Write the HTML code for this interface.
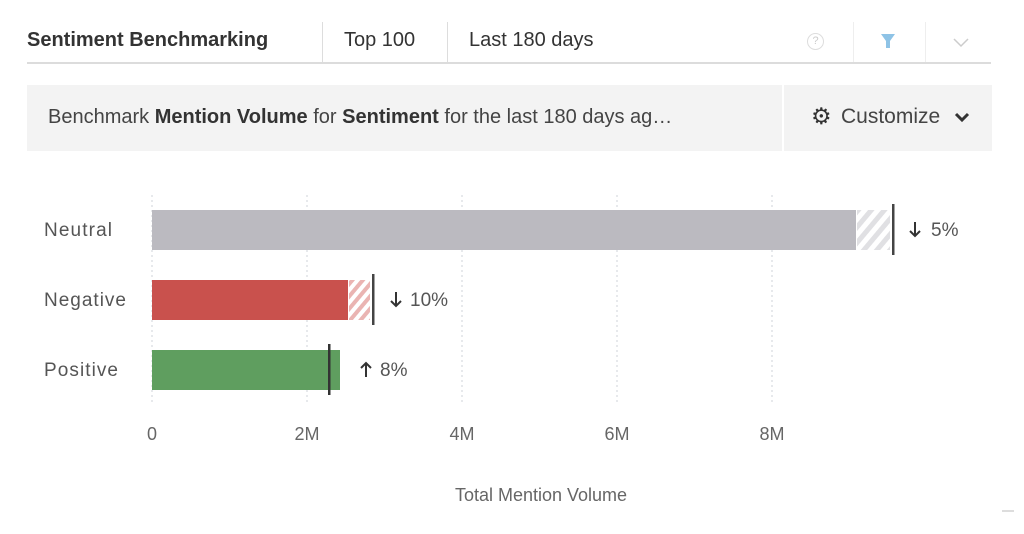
<!DOCTYPE html>
<html><head><meta charset="utf-8"><style>
body{margin:0;width:1024px;height:534px;background:#fff;font-family:"Liberation Sans",sans-serif;position:relative;overflow:hidden;color:#333}
.a{position:absolute}
</style></head><body>
<div class="a" style="left:27px;top:62px;width:964px;height:2px;background:#dcdcdc"></div>
<div class="a" style="left:27px;top:29px;font-size:20px;font-weight:bold;color:#333">Sentiment Benchmarking</div>
<div class="a" style="left:322px;top:22px;width:1px;height:40px;background:#ddd"></div>
<div class="a" style="left:344px;top:29px;font-size:20px;color:#333">Top 100</div>
<div class="a" style="left:447px;top:22px;width:1px;height:40px;background:#ddd"></div>
<div class="a" style="left:469px;top:29px;font-size:20px;color:#333">Last 180 days</div>
<div class="a" style="left:807px;top:33px;width:15px;height:15px;border:1px solid #ddd;border-radius:50%;font-size:11px;color:#ccc;text-align:center;line-height:15px">?</div>
<div class="a" style="left:853px;top:22px;width:1px;height:40px;background:#eee"></div>
<svg class="a" style="left:880px;top:33px" width="16" height="16"><path d="M1 1H15L10 8V15H6V8Z" fill="#8ec3e6"/></svg>
<div class="a" style="left:925px;top:22px;width:1px;height:40px;background:#eee"></div>
<svg class="a" style="left:953px;top:38px" width="16" height="10"><path d="M1 1L8 8L15 1" stroke="#ccc" stroke-width="1.5" fill="none"/></svg>
<div class="a" style="left:27px;top:85px;width:965px;height:66px;background:#f3f3f3"></div>
<div class="a" style="left:782px;top:85px;width:2px;height:66px;background:#fff"></div>
<div class="a" style="left:48px;top:106px;font-size:20px;color:#444">Benchmark <b style="color:#333">Mention Volume</b> for <b style="color:#333">Sentiment</b> for the last 180 days ag…</div>
<div class="a" style="left:811px;top:103px;font-size:23px;color:#333">⚙</div>
<div class="a" style="left:841px;top:105px;font-size:21px;color:#444">Customize</div>
<svg class="a" style="left:954px;top:112px" width="16" height="11"><path d="M2 2L8 8L14 2" stroke="#333" stroke-width="3" fill="none"/></svg>
<svg class="a" style="left:0;top:0" width="1024" height="534">
<defs>
<pattern id="hg" width="10" height="10" patternUnits="userSpaceOnUse" patternTransform="rotate(40)"><rect width="10" height="10" fill="#fff"/><rect width="5" height="10" fill="#e0e0e3"/></pattern>
<pattern id="hr" width="8" height="8" patternUnits="userSpaceOnUse" patternTransform="rotate(40)"><rect width="8" height="8" fill="#fff"/><rect width="4" height="8" fill="#eab4b2"/></pattern>
</defs>
<g stroke="#cfd3da" stroke-dasharray="2,3" stroke-width="1">
<line x1="152" y1="195" x2="152" y2="402"/><line x1="307" y1="195" x2="307" y2="402"/><line x1="462" y1="195" x2="462" y2="402"/><line x1="617" y1="195" x2="617" y2="402"/><line x1="772" y1="195" x2="772" y2="402"/>
</g>
<rect x="152" y="210" width="704" height="40" fill="#bbbac0"/>
<rect x="857" y="210" width="33" height="40" fill="url(#hg)"/>
<rect x="892" y="204" width="2.5" height="51" fill="#444"/>
<rect x="152" y="280" width="196" height="40" fill="#c9514d"/>
<rect x="349" y="280" width="21" height="40" fill="url(#hr)"/>
<rect x="372" y="274" width="2.5" height="51" fill="#444"/>
<rect x="152" y="350" width="188" height="40" fill="#5f9e5f"/>
<rect x="328" y="344" width="2.5" height="51" fill="#333"/>
<g font-family="Liberation Sans" font-size="19" fill="#555">
<text x="44" y="236" textLength="68">Neutral</text><text x="44" y="306" textLength="82">Negative</text><text x="44" y="376" textLength="74">Positive</text>
<text x="931" y="236">5%</text><text x="410" y="306">10%</text><text x="380" y="376">8%</text>
</g>
<g font-family="Liberation Sans" font-size="18" fill="#666">
<text x="152" y="440" text-anchor="middle">0</text><text x="307" y="440" text-anchor="middle">2M</text><text x="462" y="440" text-anchor="middle">4M</text><text x="617" y="440" text-anchor="middle">6M</text><text x="772" y="440" text-anchor="middle">8M</text>
<text x="541" y="501" text-anchor="middle">Total Mention Volume</text>
</g>
<g stroke="#333" stroke-width="2" fill="none">
<path d="M915 222V236M910 231L915 236L920 231"/>
<path d="M396 292V306M391 301L396 306L401 301"/>
<path d="M366 363V377M361 368L366 363L371 368"/>
</g>
<rect x="1002" y="510" width="12" height="2" fill="#ddd"/>
</svg>
</body></html>
